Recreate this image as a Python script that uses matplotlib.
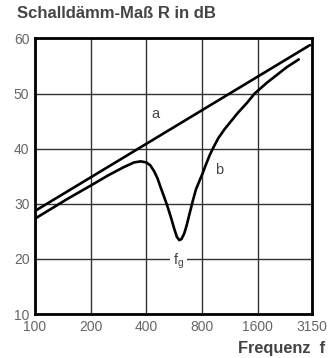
import matplotlib
matplotlib.use("Agg")
import matplotlib.pyplot as plt

plt.rcParams['font.family'] = ['Liberation Sans', 'DejaVu Sans']

# Data
freq_ticks = [100, 200, 400, 800, 1600, 3150]
freq_tick_labels = ["100", "200", "400", "800", "1600", "3150"]
db_ticks = [10, 20, 30, 40, 50, 60]

a_freq = [100, 3070]
a_db = [28.7, 58.8]

b_freq = [100, 150, 200, 250, 300, 343, 373, 400, 420, 441, 460, 479, 500, 521,
          545, 566, 585, 603, 620, 641, 660, 683, 712, 742, 785, 806, 842, 880,
          915, 980, 1058, 1150, 1250, 1400, 1540, 1800, 2000, 2300, 2670]
b_db = [27.3, 30.9, 33.3, 35.2, 36.6, 37.5, 37.7, 37.5, 37.0, 35.9, 34.6, 32.9, 31.2, 29.5,
        27.4, 25.5, 24.0, 23.4, 23.6, 24.6, 26.0, 28.0, 30.4, 32.6, 34.6, 35.5, 37.2, 38.8,
        40.0, 41.9, 43.5, 45.0, 46.5, 48.3, 50.0, 52.0, 53.2, 54.8, 56.2]

fig = plt.figure(figsize=(3.31, 3.58), dpi=100)
ax = fig.add_axes([0.1057, 0.1229, 0.837, 0.7696])
ax.set_xscale('log')
ax.set_xlim(100, 3150)
ax.set_ylim(10, 60)
ax.set_xticks(freq_ticks)
ax.set_xticklabels(freq_tick_labels)
ax.minorticks_off()
ax.set_yticks(db_ticks)
ax.tick_params(length=0, labelsize=10, labelcolor='#666666', pad=4)
ax.grid(True, color='#333333', lw=1.0)
ax.set_axisbelow(True)
for s in ax.spines.values():
    s.set_linewidth(2.0)
    s.set_color('black')

ax.plot(a_freq, a_db, color='black', lw=1.9, solid_capstyle='round')
ax.plot(b_freq, b_db, color='black', lw=1.9, solid_capstyle='round', solid_joinstyle='round')

ax.text(450, 46.3, "a", fontsize=10.5, color='#444444', ha='center', va='center')
ax.text(990, 36.1, "b", fontsize=10.5, color='#444444', ha='center', va='center')
ax.text(600, 19.6, r"f$_\mathregular{g}$", fontsize=10.5, color='#444444', ha='center', va='center',
        bbox=dict(facecolor='white', edgecolor='none', pad=2))

fig.text(17/331, 1 - 14/358, "Schalldämm-Maß R in dB", fontsize=12, fontweight='bold',
         color='#444444', ha='left', va='center')
fig.text(325/331, 1 - 348/358, "Frequenz  f", fontsize=11.8, fontweight='bold',
         color='#444444', ha='right', va='center')

fig.savefig("out.png", dpi=100)
